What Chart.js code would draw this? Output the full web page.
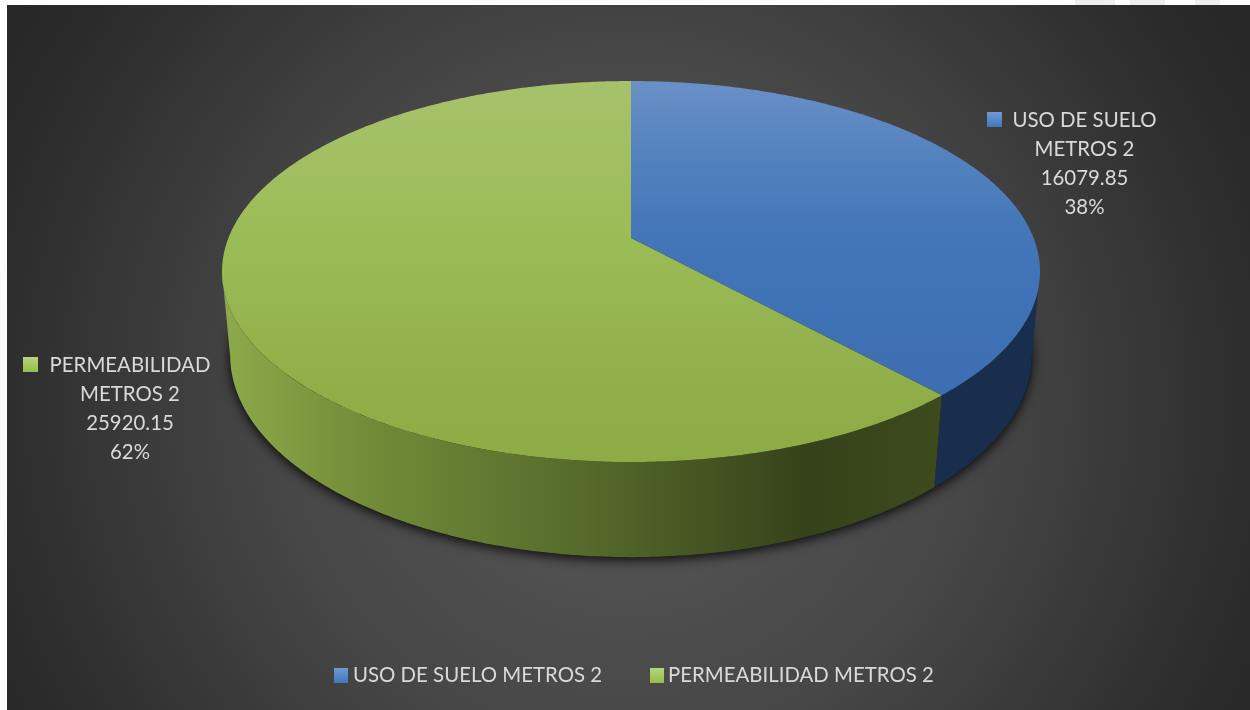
<!DOCTYPE html>
<html lang="es">
<head>
    <meta charset="UTF-8">
    <title>Uso de suelo y permeabilidad</title>
    <script src="https://cdn.jsdelivr.net/npm/chart.js@4"></script>
    <style>
        html, body {
            margin: 0;
            padding: 0;
            background: #ffffff;
            overflow: hidden;
        }
        canvas {
            display: block;
        }
    </style>
</head>
<body>
    <canvas id="pieChart" width="1250" height="710"></canvas>

    <script>
        const categories = ['USO DE SUELO METROS 2', 'PERMEABILIDAD METROS 2'];
        const labelLines = [['USO DE SUELO', 'METROS 2'], ['PERMEABILIDAD', 'METROS 2']];
        const metros = [16079.85, 25920.15];

        const FONT = '20.4px Lato, sans-serif';
        const TEXT_COLOR = '#d9d9d9';

        // lid and base of the disc, perspective projection of the circle
        const lid = { cx: 631, cy: 238, a: 402.6, b: 184.6, k: 0.176 };
        const base = { cx: 631, cy: 321, a: 395, b: 196, k: 0.17 };

        const faceStops = [
            [[0, '#6a90c6'], [0.18, '#5583c0'], [0.39, '#4477b8'], [0.55, '#3f72b6'], [1, '#3c6cae']],
            [[0, '#a6c26c'], [0.4, '#9cbc57'], [0.83, '#8fae48'], [1, '#8dac46']]
        ];
        const markerColors = [[[0, '#6f9ad6'], [1, '#3f76bd']], [[0, '#b5d67c'], [1, '#96bd47']]];
        const sideStops = [
            [[0, '#1b3150'], [1, '#192d4c']],
            [[0, '#8eaa4b'], [0.2, '#728c38'], [0.5, '#566b2c'], [0.82, '#36421a'], [1, '#3c4a1c']]
        ];
        const labelBoxes = [
            { x: 1084.5, y: 120, mx: 987, my: 112 },
            { x: 130, y: 365, mx: 23, my: 357 }
        ];
        const legendBoxes = [{ mx: 334, tx: 353 }, { mx: 650, tx: 668 }];

        function project(p, ang) {
            const d = 1 - p.k * Math.sin(ang);
            return [p.cx + p.a * Math.cos(ang) / d, p.cy + p.b * Math.sin(ang) / d];
        }

        function traceArc(ctx, p, from, to, first) {
            const steps = Math.max(2, Math.ceil(Math.abs(to - from) / 0.01));
            for (let i = 0; i <= steps; i++) {
                const pt = project(p, from + (to - from) * i / steps);
                if (i === 0 && first) ctx.moveTo(pt[0], pt[1]);
                else ctx.lineTo(pt[0], pt[1]);
            }
        }

        function vGrad(ctx, y0, y1, stops) {
            const g = ctx.createLinearGradient(0, y0, 0, y1);
            stops.forEach(s => g.addColorStop(s[0], s[1]));
            return g;
        }

        const background = {
            id: 'background',
            beforeDraw(chart) {
                const ctx = chart.ctx;
                ctx.save();
                ctx.fillStyle = '#ffffff';
                ctx.fillRect(0, 0, 1250, 710);
                // faint marks left in the top strip of the scan
                ctx.fillStyle = '#eeeeee';
                ctx.fillRect(1075, 0, 40, 5);
                ctx.fillRect(1130, 0, 35, 5);
                ctx.fillRect(1195, 0, 25, 5);
                ctx.beginPath();
                ctx.rect(7, 5, 1243, 705);
                ctx.clip();
                ctx.translate(625, 400);
                const g = ctx.createRadialGradient(0, 0, 0, 0, 0, 720);
                g.addColorStop(0, '#5a5a5a');
                g.addColorStop(0.5, '#464646');
                g.addColorStop(0.9, '#2b2b2b');
                g.addColorStop(1, '#282828');
                ctx.fillStyle = g;
                ctx.fillRect(-700, -500, 1400, 1000);
                ctx.restore();
            }
        };

        const disc = {
            id: 'disc',
            beforeDatasetsDraw(chart) {
                const ctx = chart.ctx;
                const arcs = chart.getDatasetMeta(0).data;

                // shadow under the base
                ctx.save();
                ctx.shadowColor = 'rgba(0,0,0,0.85)';
                ctx.shadowBlur = 12;
                ctx.shadowOffsetY = 3;
                ctx.fillStyle = '#111';
                ctx.beginPath();
                traceArc(ctx, base, 0, Math.PI * 2, true);
                ctx.closePath();
                ctx.fill();
                ctx.restore();

                // side walls, cut at the angles where the outline turns
                const turn = Math.asin(lid.k);
                arcs.forEach((arc, i) => {
                    const from = Math.max(arc.startAngle, turn);
                    const to = Math.min(arc.endAngle, Math.PI - turn);
                    if (to <= from) return;
                    const g = ctx.createLinearGradient(222, 0, 935, 0);
                    sideStops[i].forEach(s => g.addColorStop(s[0], s[1]));
                    ctx.fillStyle = g;
                    ctx.beginPath();
                    traceArc(ctx, lid, from, to, true);
                    traceArc(ctx, base, to, from, false);
                    ctx.closePath();
                    ctx.fill();
                });

                // lid
                arcs.forEach((arc, i) => {
                    ctx.fillStyle = vGrad(ctx, 81, 462, faceStops[i]);
                    ctx.beginPath();
                    ctx.moveTo(lid.cx, lid.cy);
                    traceArc(ctx, lid, arc.startAngle, arc.endAngle, false);
                    ctx.closePath();
                    ctx.fill();
                });

                return false;
            }
        };

        const texts = {
            id: 'texts',
            afterDraw(chart) {
                const ctx = chart.ctx;
                const total = metros.reduce((a, b) => a + b, 0);
                ctx.save();
                ctx.font = FONT;
                ctx.textBaseline = 'middle';

                categories.forEach((cat, i) => {
                    const box = labelBoxes[i];
                    const lines = labelLines[i].concat([metros[i].toFixed(2), Math.round(metros[i] / total * 100) + '%']);
                    ctx.textAlign = 'center';
                    ctx.fillStyle = TEXT_COLOR;
                    lines.forEach((t, n) => ctx.fillText(t, box.x, box.y + n * 29.3));
                    ctx.fillStyle = vGrad(ctx, box.my, box.my + 15, markerColors[i]);
                    ctx.fillRect(box.mx, box.my, 15, 15);

                    const leg = legendBoxes[i];
                    ctx.fillStyle = vGrad(ctx, 668, 683, markerColors[i]);
                    ctx.fillRect(leg.mx, 668, 14, 15);
                    ctx.textAlign = 'left';
                    ctx.fillStyle = TEXT_COLOR;
                    ctx.fillText(cat, leg.tx, 675);
                });
                ctx.restore();
            }
        };

        new Chart(document.getElementById('pieChart'), {
            type: 'pie',
            data: {
                labels: categories,
                datasets: [{ data: metros, backgroundColor: ['#4f81bd', '#9bbb59'], borderWidth: 0 }]
            },
            options: {
                responsive: false,
                animation: false,
                plugins: { legend: { display: false }, tooltip: { enabled: false } }
            },
            plugins: [background, disc, texts]
        });
    </script>
</body>
</html>
